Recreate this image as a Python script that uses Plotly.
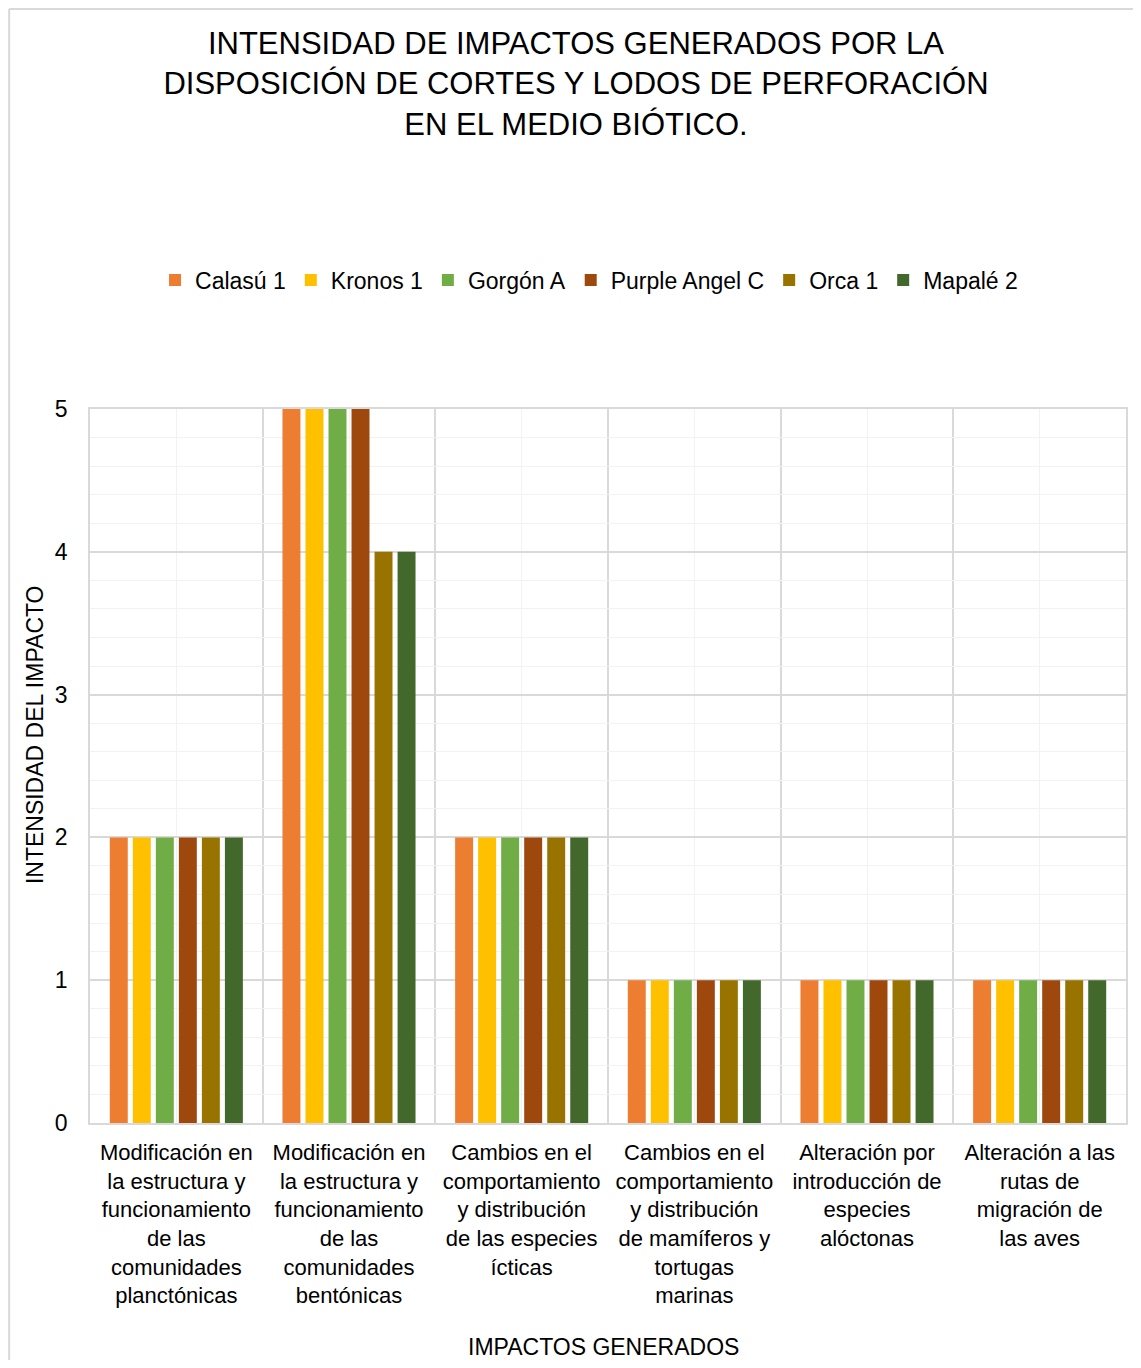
import plotly.graph_objects as go

categories = [
    "Modificación en<br>la estructura y<br>funcionamiento<br>de las<br>comunidades<br>planctónicas",
    "Modificación en<br>la estructura y<br>funcionamiento<br>de las<br>comunidades<br>bentónicas",
    "Cambios en el<br>comportamiento<br>y distribución<br>de las especies<br>ícticas",
    "Cambios en el<br>comportamiento<br>y distribución<br>de mamíferos y<br>tortugas<br>marinas",
    "Alteración por<br>introducción de<br>especies<br>alóctonas",
    "Alteración a las<br>rutas de<br>migración de<br>las aves",
]
series_names = ["Calasú 1", "Kronos 1", "Gorgón A", "Purple Angel C", "Orca 1", "Mapalé 2"]
calasu_1 = [2, 5, 2, 1, 1, 1]
kronos_1 = [2, 5, 2, 1, 1, 1]
gorgon_a = [2, 5, 2, 1, 1, 1]
purple_angel_c = [2, 5, 2, 1, 1, 1]
orca_1 = [2, 4, 2, 1, 1, 1]
mapale_2 = [2, 4, 2, 1, 1, 1]
series_values = [calasu_1, kronos_1, gorgon_a, purple_angel_c, orca_1, mapale_2]
colors = ["#ED7D31", "#FFC000", "#70AD47", "#9E480E", "#997300", "#43682B"]
y_ticks = [0, 1, 2, 3, 4, 5]

# page body has an 8px margin: figure pixel = screen pixel - 8
OFF = 8
W, H = 1141 - 2 * OFF, 1368 - 2 * OFF
PLOT_L, PLOT_R, PLOT_T, PLOT_B = 90 - OFF, 1128 - OFF, 409 - OFF, 1123 - OFF
L, R, T, B = PLOT_L, W - PLOT_R, PLOT_T, H - PLOT_B
PW, PH = PLOT_R - PLOT_L, PLOT_B - PLOT_T

def px_x(p):
    return (p - OFF - PLOT_L) / PW

def px_y(p):
    return (PLOT_B - (p - OFF)) / PH

FONT = "Liberation Sans, Arial, sans-serif"
idx = list(range(len(categories)))

fig = go.Figure()
for name, vals, col in zip(series_names, series_values, colors):
    fig.add_trace(go.Bar(x=idx, y=vals, name=name, marker=dict(color=col, line_width=0)))

fig.update_layout(
    width=W, height=H,
    margin=dict(l=L, r=R, t=T, b=B),
    paper_bgcolor="white", plot_bgcolor="white",
    font=dict(family=FONT, color="#000000", size=23),
    barmode="group", bargap=0.2, bargroupgap=0.22,
    title=dict(
        text="INTENSIDAD DE IMPACTOS GENERADOS POR LA<br>DISPOSICIÓN DE CORTES Y LODOS DE PERFORACIÓN<br>EN EL MEDIO BIÓTICO.",
        x=(576 - OFF) / W, xanchor="center", xref="container",
        y=1 - (54 - OFF) / H, yanchor="middle", yref="container",
        font=dict(size=31, family=FONT, color="#000000"),
    ),
    legend=dict(
        orientation="h", x=px_x(590), xanchor="center", y=px_y(280), yanchor="middle",
        font=dict(size=23, family=FONT), itemwidth=30, traceorder="normal",
    ),
    showlegend=True,
)

fig.update_xaxes(
    range=[-0.5, len(categories) - 0.5],
    tickmode="array", tickvals=idx, ticktext=categories,
    tickangle=0, ticks="", ticklabelstandoff=9,
    showgrid=True, gridcolor="#f2f2f2", gridwidth=1,
    minor=dict(tick0=0.5, dtick=1, showgrid=True, gridcolor="#d9d9d9", gridwidth=1.5),
    showline=True, linecolor="#d9d9d9", linewidth=1.5, mirror=True,
    zeroline=False, tickfont=dict(size=22, family=FONT),
)
fig.update_yaxes(
    range=[0, 5], tickmode="array", tickvals=y_ticks,
    ticks="", ticklabelstandoff=16, showgrid=True, gridcolor="#d9d9d9", gridwidth=1.5,
    minor=dict(dtick=0.2, showgrid=True, gridcolor="#f2f2f2", gridwidth=1),
    showline=True, linecolor="#d9d9d9", linewidth=1.5, mirror=True,
    zeroline=False, tickfont=dict(size=23, family=FONT),
)

fig.add_annotation(
    text="INTENSIDAD DEL IMPACTO", textangle=-90, showarrow=False,
    xref="paper", yref="paper", x=px_x(35), y=px_y(735), xanchor="center", yanchor="middle",
    font=dict(size=23, family=FONT),
)
fig.add_annotation(
    text="IMPACTOS GENERADOS", showarrow=False,
    xref="paper", yref="paper", x=px_x(604), y=px_y(1347), xanchor="center", yanchor="middle",
    font=dict(size=23, family=FONT),
)

# outer chart frame (top and left edges visible in the reference)
fig.add_shape(type="line", xref="paper", yref="paper", x0=px_x(9), x1=px_x(1141), y0=px_y(9), y1=px_y(9),
              line=dict(color="#d9d9d9", width=2))
fig.add_shape(type="line", xref="paper", yref="paper", x0=px_x(9), x1=px_x(9), y0=px_y(9), y1=px_y(1368),
              line=dict(color="#d9d9d9", width=2))

fig.write_html("out.html")
